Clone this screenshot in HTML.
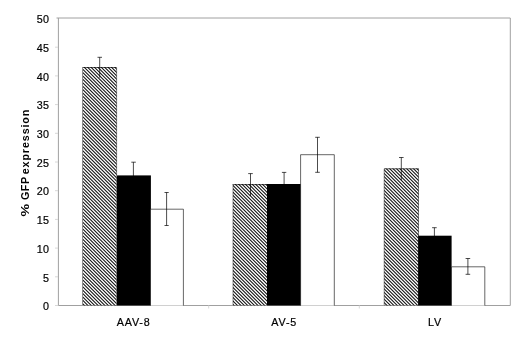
<!DOCTYPE html>
<html>
<head>
<meta charset="utf-8">
<style>
html,body{margin:0;padding:0;background:#fff;}
body{width:520px;height:337px;overflow:hidden;position:relative;}
svg{position:absolute;left:0;top:0;will-change:transform;}
text{font-family:"Liberation Sans",sans-serif;fill:#000;}
.txt{will-change:transform;}
.tk{stroke:#000;stroke-width:0.2px;font-size:10.75px;letter-spacing:0.36px;text-anchor:end;}
.xl{stroke:#000;stroke-width:0.2px;font-size:10.75px;letter-spacing:0.8px;text-anchor:middle;}
.yl{font-size:10.75px;font-weight:bold;text-anchor:start;letter-spacing:0.88px;}
</style>
</head>
<body>
<svg width="520" height="337" viewBox="0 0 520 337">
<defs>
<clipPath id="c1"><rect x="83" y="67" width="33.60" height="238.50"/></clipPath>
<clipPath id="c2"><rect x="233" y="184" width="34.00" height="121.50"/></clipPath>
<clipPath id="c3"><rect x="384.2" y="168.4" width="34.40" height="137.10"/></clipPath>
</defs>
<!-- plot area border -->
<g stroke="#a0a0a0" stroke-width="1" fill="none">
<path d="M56.5 18H510.3V305.5M58.4 18V305.5H510.3"/>
</g>
<g stroke="#d8d8d8" stroke-width="1" fill="none">
<path d="M208.7 305.5V308.5M359.3 305.5V308.5M55 305.5H58M55 276.8H58M55 248.1H58M55 219.4H58M55 190.7H58M55 162H58M55 133.3H58M55 104.6H58M55 75.9H58M55 47.2H58"/>
</g>

<!-- hatched bars -->
<path clip-path="url(#c1)" d="M-162.80 65.00L79.70 307.50M-159.40 65.00L83.10 307.50M-156.00 65.00L86.50 307.50M-152.60 65.00L89.90 307.50M-149.20 65.00L93.30 307.50M-145.80 65.00L96.70 307.50M-142.40 65.00L100.10 307.50M-139.00 65.00L103.50 307.50M-135.60 65.00L106.90 307.50M-132.20 65.00L110.30 307.50M-128.80 65.00L113.70 307.50M-125.40 65.00L117.10 307.50M-122.00 65.00L120.50 307.50M-118.60 65.00L123.90 307.50M-115.20 65.00L127.30 307.50M-111.80 65.00L130.70 307.50M-108.40 65.00L134.10 307.50M-105.00 65.00L137.50 307.50M-101.60 65.00L140.90 307.50M-98.20 65.00L144.30 307.50M-94.80 65.00L147.70 307.50M-91.40 65.00L151.10 307.50M-88.00 65.00L154.50 307.50M-84.60 65.00L157.90 307.50M-81.20 65.00L161.30 307.50M-77.80 65.00L164.70 307.50M-74.40 65.00L168.10 307.50M-71.00 65.00L171.50 307.50M-67.60 65.00L174.90 307.50M-64.20 65.00L178.30 307.50M-60.80 65.00L181.70 307.50M-57.40 65.00L185.10 307.50M-54.00 65.00L188.50 307.50M-50.60 65.00L191.90 307.50M-47.20 65.00L195.30 307.50M-43.80 65.00L198.70 307.50M-40.40 65.00L202.10 307.50M-37.00 65.00L205.50 307.50M-33.60 65.00L208.90 307.50M-30.20 65.00L212.30 307.50M-26.80 65.00L215.70 307.50M-23.40 65.00L219.10 307.50M-20.00 65.00L222.50 307.50M-16.60 65.00L225.90 307.50M-13.20 65.00L229.30 307.50M-9.80 65.00L232.70 307.50M-6.40 65.00L236.10 307.50M-3.00 65.00L239.50 307.50M0.40 65.00L242.90 307.50M3.80 65.00L246.30 307.50M7.20 65.00L249.70 307.50M10.60 65.00L253.10 307.50M14.00 65.00L256.50 307.50M17.40 65.00L259.90 307.50M20.80 65.00L263.30 307.50M24.20 65.00L266.70 307.50M27.60 65.00L270.10 307.50M31.00 65.00L273.50 307.50M34.40 65.00L276.90 307.50M37.80 65.00L280.30 307.50M41.20 65.00L283.70 307.50M44.60 65.00L287.10 307.50M48.00 65.00L290.50 307.50M51.40 65.00L293.90 307.50M54.80 65.00L297.30 307.50M58.20 65.00L300.70 307.50M61.60 65.00L304.10 307.50M65.00 65.00L307.50 307.50M68.40 65.00L310.90 307.50M71.80 65.00L314.30 307.50M75.20 65.00L317.70 307.50M78.60 65.00L321.10 307.50M82.00 65.00L324.50 307.50M85.40 65.00L327.90 307.50M88.80 65.00L331.30 307.50M92.20 65.00L334.70 307.50M95.60 65.00L338.10 307.50M99.00 65.00L341.50 307.50M102.40 65.00L344.90 307.50M105.80 65.00L348.30 307.50M109.20 65.00L351.70 307.50M112.60 65.00L355.10 307.50M116.00 65.00L358.50 307.50" stroke="#111" stroke-width="1.05" fill="none"/>
<path clip-path="url(#c2)" d="M107.20 182.00L232.70 307.50M110.60 182.00L236.10 307.50M114.00 182.00L239.50 307.50M117.40 182.00L242.90 307.50M120.80 182.00L246.30 307.50M124.20 182.00L249.70 307.50M127.60 182.00L253.10 307.50M131.00 182.00L256.50 307.50M134.40 182.00L259.90 307.50M137.80 182.00L263.30 307.50M141.20 182.00L266.70 307.50M144.60 182.00L270.10 307.50M148.00 182.00L273.50 307.50M151.40 182.00L276.90 307.50M154.80 182.00L280.30 307.50M158.20 182.00L283.70 307.50M161.60 182.00L287.10 307.50M165.00 182.00L290.50 307.50M168.40 182.00L293.90 307.50M171.80 182.00L297.30 307.50M175.20 182.00L300.70 307.50M178.60 182.00L304.10 307.50M182.00 182.00L307.50 307.50M185.40 182.00L310.90 307.50M188.80 182.00L314.30 307.50M192.20 182.00L317.70 307.50M195.60 182.00L321.10 307.50M199.00 182.00L324.50 307.50M202.40 182.00L327.90 307.50M205.80 182.00L331.30 307.50M209.20 182.00L334.70 307.50M212.60 182.00L338.10 307.50M216.00 182.00L341.50 307.50M219.40 182.00L344.90 307.50M222.80 182.00L348.30 307.50M226.20 182.00L351.70 307.50M229.60 182.00L355.10 307.50M233.00 182.00L358.50 307.50M236.40 182.00L361.90 307.50M239.80 182.00L365.30 307.50M243.20 182.00L368.70 307.50M246.60 182.00L372.10 307.50M250.00 182.00L375.50 307.50M253.40 182.00L378.90 307.50M256.80 182.00L382.30 307.50M260.20 182.00L385.70 307.50M263.60 182.00L389.10 307.50M267.00 182.00L392.50 307.50" stroke="#111" stroke-width="1.05" fill="none"/>
<path clip-path="url(#c3)" d="M241.20 166.40L382.30 307.50M244.60 166.40L385.70 307.50M248.00 166.40L389.10 307.50M251.40 166.40L392.50 307.50M254.80 166.40L395.90 307.50M258.20 166.40L399.30 307.50M261.60 166.40L402.70 307.50M265.00 166.40L406.10 307.50M268.40 166.40L409.50 307.50M271.80 166.40L412.90 307.50M275.20 166.40L416.30 307.50M278.60 166.40L419.70 307.50M282.00 166.40L423.10 307.50M285.40 166.40L426.50 307.50M288.80 166.40L429.90 307.50M292.20 166.40L433.30 307.50M295.60 166.40L436.70 307.50M299.00 166.40L440.10 307.50M302.40 166.40L443.50 307.50M305.80 166.40L446.90 307.50M309.20 166.40L450.30 307.50M312.60 166.40L453.70 307.50M316.00 166.40L457.10 307.50M319.40 166.40L460.50 307.50M322.80 166.40L463.90 307.50M326.20 166.40L467.30 307.50M329.60 166.40L470.70 307.50M333.00 166.40L474.10 307.50M336.40 166.40L477.50 307.50M339.80 166.40L480.90 307.50M343.20 166.40L484.30 307.50M346.60 166.40L487.70 307.50M350.00 166.40L491.10 307.50M353.40 166.40L494.50 307.50M356.80 166.40L497.90 307.50M360.20 166.40L501.30 307.50M363.60 166.40L504.70 307.50M367.00 166.40L508.10 307.50M370.40 166.40L511.50 307.50M373.80 166.40L514.90 307.50M377.20 166.40L518.30 307.50M380.60 166.40L521.70 307.50M384.00 166.40L525.10 307.50M387.40 166.40L528.50 307.50M390.80 166.40L531.90 307.50M394.20 166.40L535.30 307.50M397.60 166.40L538.70 307.50M401.00 166.40L542.10 307.50M404.40 166.40L545.50 307.50M407.80 166.40L548.90 307.50M411.20 166.40L552.30 307.50M414.60 166.40L555.70 307.50M418.00 166.40L559.10 307.50" stroke="#111" stroke-width="1.05" fill="none"/>
<g stroke="#000" stroke-width="1" fill="none" stroke-opacity="0.45">
<path d="M82.5 67.5V305M233 184.5V305M384.2 168.8V305M418.5 168.5V236M116.6 67.5V175.5"/>
</g>
<g stroke="#000" stroke-width="1" fill="none" stroke-opacity="0.6">
<path d="M82.5 67.5H116.6M232.5 184.6H267M384 168.8H418.6"/>
</g>

<!-- black bars -->
<rect x="116.6" y="175.4" width="34.3" height="130.1" fill="#000"/>
<rect x="267" y="184" width="33.9" height="121.5" fill="#000"/>
<rect x="418.1" y="235.7" width="33.5" height="69.8" fill="#000"/>

<!-- white bars -->
<g stroke="#000" stroke-width="1" fill="#fff" stroke-opacity="0.6">
<path d="M150.5 305.5V209.2H183.4V305.5"/>
<path d="M300.6 305.5V154.7H334.3V305.5"/>
<path d="M451.5 305.5V266.8H484.8V305.5"/>
</g>

<!-- error bars -->
<g stroke="#000" stroke-width="1" fill="none" stroke-opacity="0.7">
<path d="M99.7 57.3V77.7M97.5 57.3H102"/>
<path d="M133.4 162.2V189M131.3 162.2H135.8"/>
<path d="M166.6 192.5V225.5M164.5 192.5H168.7M164.5 225.5H168.7"/>
<path d="M250.5 173.6V196M248.2 173.6H252.8"/>
<path d="M284.1 172.4V196M281.9 172.4H286.3"/>
<path d="M317.5 137.3V172.3M315.2 137.3H319.8M315.2 172.3H319.8"/>
<path d="M401.3 157.5V180M399 157.5H403.6"/>
<path d="M434.4 227.7V244.3M432.1 227.7H436.7"/>
<path d="M467.9 258.5V274.3M465.6 258.5H470.2M465.6 274.3H470.2"/>
</g>

<!-- tick labels -->
<g class="tk">
<text x="49.4" y="23.2">50</text>
<text x="49.4" y="51.9">45</text>
<text x="49.4" y="80.6">40</text>
<text x="49.4" y="109.3">35</text>
<text x="49.4" y="138">30</text>
<text x="49.4" y="166.7">25</text>
<text x="49.4" y="195.4">20</text>
<text x="49.4" y="224.1">15</text>
<text x="49.4" y="252.8">10</text>
<text x="49.4" y="281.5">5</text>
<text x="49.4" y="310.2">0</text>
</g>
<g class="xl">
<text x="133.6" y="325.6">AAV-8</text>
<text x="284.2" y="325.6">AV-5</text>
<text x="435" y="325.6">LV</text>
</g>
<g class="yl">
<text transform="translate(29.4,216.6) rotate(-90) scale(1.33,1)" style="letter-spacing:0">%</text>
<text transform="translate(29.4,200) rotate(-90)" style="letter-spacing:0.5px">GFP</text>
<text transform="translate(29.4,174.3) rotate(-90)">expression</text>
</g>
</svg>
</body>
</html>
